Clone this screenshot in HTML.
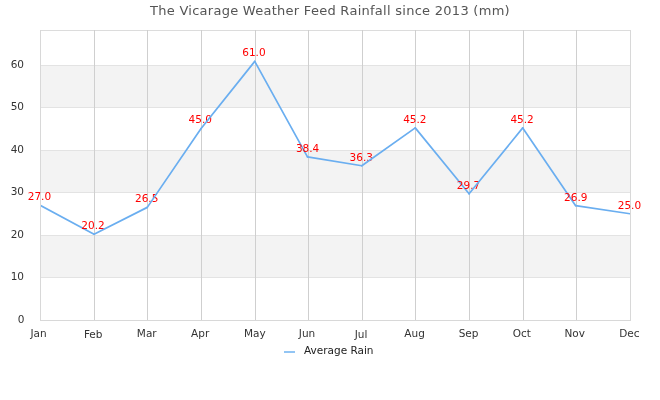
<!DOCTYPE html><html><head><meta charset="utf-8"><title>The Vicarage Weather Feed Rainfall since 2013 (mm)</title><style>html,body{margin:0;padding:0;background:#fff;width:660px;height:400px;overflow:hidden}svg{display:block}text{font-family:"DejaVu Sans","Liberation Sans",sans-serif}</style></head><body>
<svg width="660" height="400" viewBox="0 0 660 400">
<text x="150" y="15" font-size="13" fill="#555" letter-spacing="0.27">The Vicarage Weather Feed Rainfall since 2013 (mm)</text>
<rect x="40" y="65" width="590" height="42" fill="#f3f3f3"/>
<rect x="40" y="150" width="590" height="42" fill="#f3f3f3"/>
<rect x="40" y="235" width="590" height="42" fill="#f3f3f3"/>
<g stroke-width="1" shape-rendering="crispEdges"><line x1="40" y1="65.5" x2="631" y2="65.5" stroke="#e3e3e3"/><line x1="40" y1="107.5" x2="631" y2="107.5" stroke="#e3e3e3"/><line x1="40" y1="150.5" x2="631" y2="150.5" stroke="#e3e3e3"/><line x1="40" y1="192.5" x2="631" y2="192.5" stroke="#e3e3e3"/><line x1="40" y1="235.5" x2="631" y2="235.5" stroke="#e3e3e3"/><line x1="40" y1="277.5" x2="631" y2="277.5" stroke="#e3e3e3"/><line x1="40" y1="30.5" x2="631" y2="30.5" stroke="#dcdcdc"/><line x1="94.5" y1="30" x2="94.5" y2="321" stroke="#cfcfcf"/><line x1="147.5" y1="30" x2="147.5" y2="321" stroke="#cfcfcf"/><line x1="201.5" y1="30" x2="201.5" y2="321" stroke="#cfcfcf"/><line x1="255.5" y1="30" x2="255.5" y2="321" stroke="#cfcfcf"/><line x1="308.5" y1="30" x2="308.5" y2="321" stroke="#cfcfcf"/><line x1="362.5" y1="30" x2="362.5" y2="321" stroke="#cfcfcf"/><line x1="415.5" y1="30" x2="415.5" y2="321" stroke="#cfcfcf"/><line x1="469.5" y1="30" x2="469.5" y2="321" stroke="#cfcfcf"/><line x1="523.5" y1="30" x2="523.5" y2="321" stroke="#cfcfcf"/><line x1="576.5" y1="30" x2="576.5" y2="321" stroke="#cfcfcf"/><line x1="40.5" y1="30" x2="40.5" y2="321" stroke="#d8d8d8"/><line x1="630.5" y1="30" x2="630.5" y2="321" stroke="#d8d8d8"/><line x1="40" y1="320.5" x2="631" y2="320.5" stroke="#d8d8d8"/></g>
<text x="24.5" y="323" text-anchor="end" font-size="10.5" fill="#333">0</text>
<text x="24.0" y="280" text-anchor="end" font-size="10.5" fill="#333">10</text>
<text x="24.0" y="238" text-anchor="end" font-size="10.5" fill="#333">20</text>
<text x="24.0" y="195" text-anchor="end" font-size="10.5" fill="#333">30</text>
<text x="24.0" y="153" text-anchor="end" font-size="10.5" fill="#333">40</text>
<text x="24.0" y="110" text-anchor="end" font-size="10.5" fill="#333">50</text>
<text x="24.0" y="68" text-anchor="end" font-size="10.5" fill="#333">60</text>
<text x="38.60" y="337" text-anchor="middle" font-size="10.5" fill="#333">Jan</text>
<text x="93.19" y="338" text-anchor="middle" font-size="10.5" fill="#333">Feb</text>
<text x="146.77" y="337" text-anchor="middle" font-size="10.5" fill="#333">Mar</text>
<text x="200.16" y="337" text-anchor="middle" font-size="10.5" fill="#333">Apr</text>
<text x="254.75" y="337" text-anchor="middle" font-size="10.5" fill="#333">May</text>
<text x="307.03" y="337" text-anchor="middle" font-size="10.5" fill="#333">Jun</text>
<text x="361.02" y="338" text-anchor="middle" font-size="10.5" fill="#333">Jul</text>
<text x="414.60" y="337" text-anchor="middle" font-size="10.5" fill="#333">Aug</text>
<text x="468.59" y="337" text-anchor="middle" font-size="10.5" fill="#333">Sep</text>
<text x="521.83" y="337" text-anchor="middle" font-size="10.5" fill="#333">Oct</text>
<text x="574.76" y="337" text-anchor="middle" font-size="10.5" fill="#333">Nov</text>
<text x="629.30" y="337" text-anchor="middle" font-size="10.5" fill="#333">Dec</text>
<defs><clipPath id="pc"><rect x="41" y="30" width="589" height="290"/></clipPath></defs>
<text x="39.40" y="200" text-anchor="middle" font-size="10.5" fill="#f00">27.0</text>
<line x1="40.00" y1="205.25" x2="94.04" y2="234.15" stroke="#6aaef0" stroke-width="1.7" stroke-linecap="round" clip-path="url(#pc)"/>
<text x="93.04" y="229" text-anchor="middle" font-size="10.5" fill="#f00">20.2</text>
<line x1="94.04" y1="234.15" x2="147.27" y2="207.38" stroke="#6aaef0" stroke-width="1.7" stroke-linecap="round" clip-path="url(#pc)"/>
<text x="146.67" y="202" text-anchor="middle" font-size="10.5" fill="#f00">26.5</text>
<line x1="147.27" y1="207.38" x2="200.91" y2="128.75" stroke="#6aaef0" stroke-width="1.7" stroke-linecap="round" clip-path="url(#pc)"/>
<text x="200.31" y="123" text-anchor="middle" font-size="10.5" fill="#f00">45.0</text>
<line x1="200.91" y1="128.75" x2="254.75" y2="61.35" stroke="#6aaef0" stroke-width="1.7" stroke-linecap="round" clip-path="url(#pc)"/>
<text x="253.95" y="56" text-anchor="middle" font-size="10.5" fill="#f00">61.0</text>
<line x1="254.75" y1="61.35" x2="307.48" y2="156.80" stroke="#6aaef0" stroke-width="1.7" stroke-linecap="round" clip-path="url(#pc)"/>
<text x="307.58" y="152" text-anchor="middle" font-size="10.5" fill="#f00">38.4</text>
<line x1="307.48" y1="156.80" x2="361.82" y2="165.73" stroke="#6aaef0" stroke-width="1.7" stroke-linecap="round" clip-path="url(#pc)"/>
<text x="361.22" y="161" text-anchor="middle" font-size="10.5" fill="#f00">36.3</text>
<line x1="361.82" y1="165.73" x2="415.25" y2="127.90" stroke="#6aaef0" stroke-width="1.7" stroke-linecap="round" clip-path="url(#pc)"/>
<text x="414.85" y="123" text-anchor="middle" font-size="10.5" fill="#f00">45.2</text>
<line x1="415.25" y1="127.90" x2="469.09" y2="193.78" stroke="#6aaef0" stroke-width="1.7" stroke-linecap="round" clip-path="url(#pc)"/>
<text x="468.49" y="189" text-anchor="middle" font-size="10.5" fill="#f00">29.7</text>
<line x1="469.09" y1="193.78" x2="522.73" y2="127.90" stroke="#6aaef0" stroke-width="1.7" stroke-linecap="round" clip-path="url(#pc)"/>
<text x="522.13" y="123" text-anchor="middle" font-size="10.5" fill="#f00">45.2</text>
<line x1="522.73" y1="127.90" x2="575.66" y2="205.68" stroke="#6aaef0" stroke-width="1.7" stroke-linecap="round" clip-path="url(#pc)"/>
<text x="575.76" y="201" text-anchor="middle" font-size="10.5" fill="#f00">26.9</text>
<line x1="575.66" y1="205.68" x2="630.00" y2="213.75" stroke="#6aaef0" stroke-width="1.7" stroke-linecap="round" clip-path="url(#pc)"/>
<text x="629.40" y="209" text-anchor="middle" font-size="10.5" fill="#f00">25.0</text>
<line x1="284" y1="352" x2="295" y2="352" stroke="#92c5f4" stroke-width="2"/>
<text x="304" y="354" font-size="10.5" fill="#222">Average Rain</text>
</svg></body></html>
